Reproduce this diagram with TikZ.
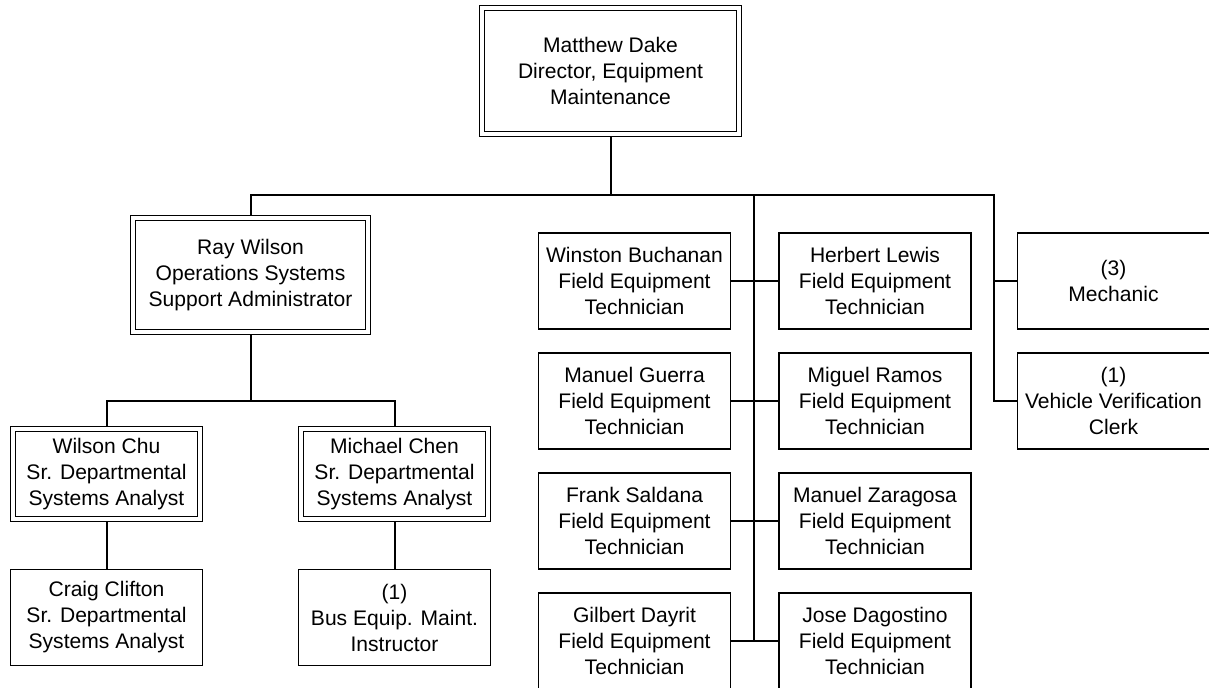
\documentclass[tikz,border=0pt]{standalone}
\usepackage{fontspec}
\setmainfont{Liberation Sans}
\usetikzlibrary{backgrounds}

\tikzset{
  box/.style={draw, fill=white, line width=1.2pt, align=center, inner sep=0pt,
    minimum width=144pt, minimum height=72pt,
    font=\fontsize{15.8pt}{19.5pt}\selectfont},
  dbox/.style={box, double, line width=1.1pt, double distance=2.5pt,
    minimum width=140.25pt, minimum height=67.5pt},
  link/.style={line width=1.5pt},
}

\begin{document}
\begin{tikzpicture}[x=0.75pt, y=-0.75pt]
    \useasboundingbox (0,0) rectangle (1209,688);
    \clip (0,0) rectangle (1209,688);

    % 主管
    \node[dbox, minimum width=192.75pt, minimum height=94.5pt] (dake) at (610.5,71) {Matthew Dake\\Director, Equipment\\Maintenance};

    % 左侧
    \node[dbox, minimum width=176.25pt, minimum height=85.5pt] (ray) at (250.5,275) {Ray Wilson\\Operations Systems\\Support Administrator};
    \node[dbox] (chu) at (106.5,474) {Wilson Chu\\Sr. Departmental\\Systems Analyst};
    \node[dbox] (mchen) at (394.5,474) {Michael Chen\\Sr. Departmental\\Systems Analyst};
    \node[box] (craig) at (106.5,617.5) {Craig Clifton\\Sr. Departmental\\Systems Analyst};
    \node[box] (instr) at (394.5,617.5) {(1)\\Bus Equip. Maint.\\Instructor};

    % 技术员
    \node[box] (winston) at (634.5,281) {Winston Buchanan\\Field Equipment\\Technician};
    \node[box] (herbert) at (875,281) {Herbert Lewis\\Field Equipment\\Technician};
    \node[box] (guerra) at (634.5,401) {Manuel Guerra\\Field Equipment\\Technician};
    \node[box] (ramos) at (875,401) {Miguel Ramos\\Field Equipment\\Technician};
    \node[box] (saldana) at (634.5,521) {Frank Saldana\\Field Equipment\\Technician};
    \node[box] (zaragosa) at (875,521) {Manuel Zaragosa\\Field Equipment\\Technician};
    \node[box] (dayrit) at (634.5,641) {Gilbert Dayrit\\Field Equipment\\Technician};
    \node[box] (jose) at (875,641) {Jose Dagostino\\Field Equipment\\Technician};

    % 右侧
    \node[box] (mech) at (1113.5,281) {(3)\\Mechanic};
    \node[box] (clerk) at (1113.5,401) {(1)\\Vehicle Verification\\Clerk};

    % 连线
    \coordinate (bus) at (610.5,195);
    \coordinate (busR) at (994,195);
    \coordinate (fcol) at (754,195);
    \coordinate (rsub) at (250.5,401);
    \begin{scope}[on background layer]
        \draw[link] (dake.south) -- (bus);
        \draw[link] (ray.north) |- (busR) |- (clerk.west);
        \draw[link] (busR |- mech.west) -- (mech.west);
        \draw[link] (fcol) -- (fcol |- dayrit.east);
        \draw[link] (winston.east) -- (herbert.west);
        \draw[link] (guerra.east) -- (ramos.west);
        \draw[link] (saldana.east) -- (zaragosa.west);
        \draw[link] (dayrit.east) -- (jose.west);
        \draw[link] (ray.south) -- (rsub);
        \draw[link] (chu.north) |- (rsub) -| (mchen.north);
        \draw[link] (chu.south) -- (craig.north);
        \draw[link] (mchen.south) -- (instr.north);
    \end{scope}
\end{tikzpicture}
\end{document}
